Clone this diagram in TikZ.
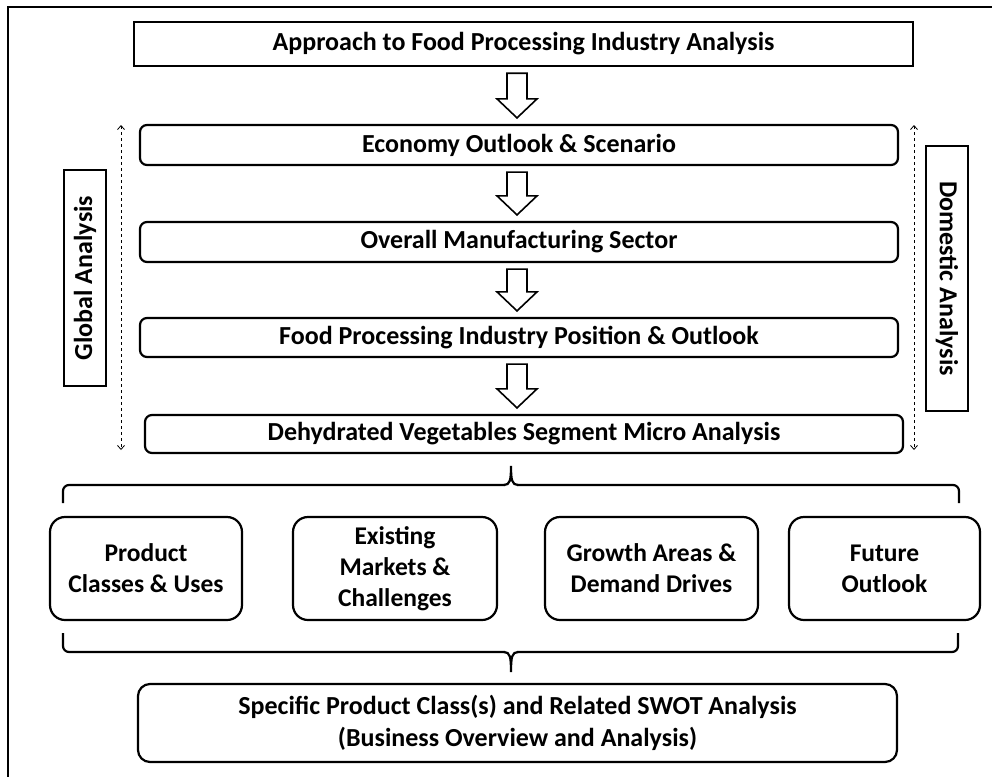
\documentclass[tikz,border=0pt]{standalone}
\usepackage{fontspec}
\setmainfont{Carlito}
\usetikzlibrary{calc,arrows.meta}
\begin{document}
\begin{tikzpicture}[x=1pt,y=-1pt,
  sqbox/.style={draw,line width=2.4pt,inner sep=0pt,font=\fontsize{26}{30}\selectfont\bfseries},
  rbox/.style={draw,line width=2.2pt,rounded corners=7pt,inner sep=0pt,font=\fontsize{26}{30}\selectfont\bfseries},
  bigbox/.style={draw,line width=2.2pt,rounded corners=15pt,inner sep=0pt,align=center,font=\fontsize{25.5}{31}\selectfont\bfseries},
  sidebox/.style={draw,line width=1.3pt,inner sep=0pt,font=\fontsize{26}{30}\selectfont\bfseries},
  hollow/.style={draw,line width=1.6pt,fill=white,line join=miter},
  dasharr/.style={dashed,line width=0.8pt,{Straight Barb[length=4pt,width=7pt]}-{Straight Barb[length=4pt,width=7pt]}},
  brace/.style={line width=2.2pt,rounded corners=6pt}]
\useasboundingbox (0,0) rectangle (992,776);
% frame
\draw[line width=1.4pt] (8,790) -- (8,7) -- (1000,7);
% main column
\node[sqbox,minimum width=779,minimum height=44] (top) at (523.5,44) {Approach to Food Processing Industry Analysis};
\node[rbox,minimum width=758,minimum height=40] (e1) at (519,145) {Economy Outlook \& Scenario};
\node[rbox,minimum width=758,minimum height=40] (e2) at (519,242) {Overall Manufacturing Sector};
\node[rbox,minimum width=758,minimum height=39] (e3) at (519,337.5) {Food Processing Industry Position \& Outlook};
\node[rbox,minimum width=758,minimum height=38] (e4) at (524,434) {Dehydrated Vegetables Segment Micro Analysis};
% side labels
\node[sidebox,minimum width=216,minimum height=42,rotate=90] (glob) at (85,278) {Global Analysis};
\node[sidebox,minimum width=265,minimum height=42,rotate=-90] (dom) at (947,278.5) {Domestic Analysis};
\coordinate (gl1) at (121,125); \coordinate (gl2) at (121,450);
\coordinate (dm1) at (914,125); \coordinate (dm2) at (914,450);
\draw[dasharr] (gl1) -- (gl2);
\draw[dasharr] (dm1) -- (dm2);
% hollow arrows
\coordinate (ax) at (517,0);
\newcommand\harrow[2]{%
  \path (ax |- #1.south) coordinate (ht) (ax |- #2.north) coordinate (hb);
  \draw[hollow] ($(ht)+(-10,6)$) -- ($(ht)+(10,6)$) -- ($(hb)+(10,-25)$) -- ($(hb)+(20,-25)$)
     -- ($(hb)+(0,-6)$) -- ($(hb)+(-20,-25)$) -- ($(hb)+(-10,-25)$) -- cycle;}
\harrow{top}{e1}
\harrow{e1}{e2}
\harrow{e2}{e3}
\harrow{e3}{e4}
% upper brace
\draw[brace] (63,503) -- (63,485) -- (505,485);
\draw[brace] (517,485) -- (959,485) -- (959,503);
\draw[line width=2.2pt] (504,485) .. controls (510,485) and (511,480) .. (511,466)
   .. controls (511,480) and (512,485) .. (518,485);
% row boxes
\node[bigbox,minimum width=192,minimum height=103] (pa) at (146,568.5) {Product\\Classes \& Uses};
\node[bigbox,minimum width=204,minimum height=103] (pb) at (395,568.5) {Existing\\Markets \&\\Challenges};
\node[bigbox,minimum width=213,minimum height=103] (pc) at (651.5,568.5) {Growth Areas \&\\Demand Drives};
\node[bigbox,minimum width=191,minimum height=103] (pd) at (884.5,568.5) {Future\\Outlook};
% lower brace
\draw[brace] (63,633) -- (63,652) -- (505,652);
\draw[brace] (517,652) -- (958,652) -- (958,633);
\draw[line width=2.2pt] (504,652) .. controls (510,652) and (511,657) .. (511,672)
   .. controls (511,657) and (512,652) .. (518,652);
% bottom box
\node[draw,line width=2.2pt,rounded corners=12pt,inner sep=0pt,align=center,
  font=\fontsize{26}{32}\selectfont\bfseries,minimum width=759,minimum height=78] (swot) at (517.5,723)
  {Specific Product Class(s) and Related SWOT Analysis\\(Business Overview and Analysis)};
\end{tikzpicture}
\end{document}
